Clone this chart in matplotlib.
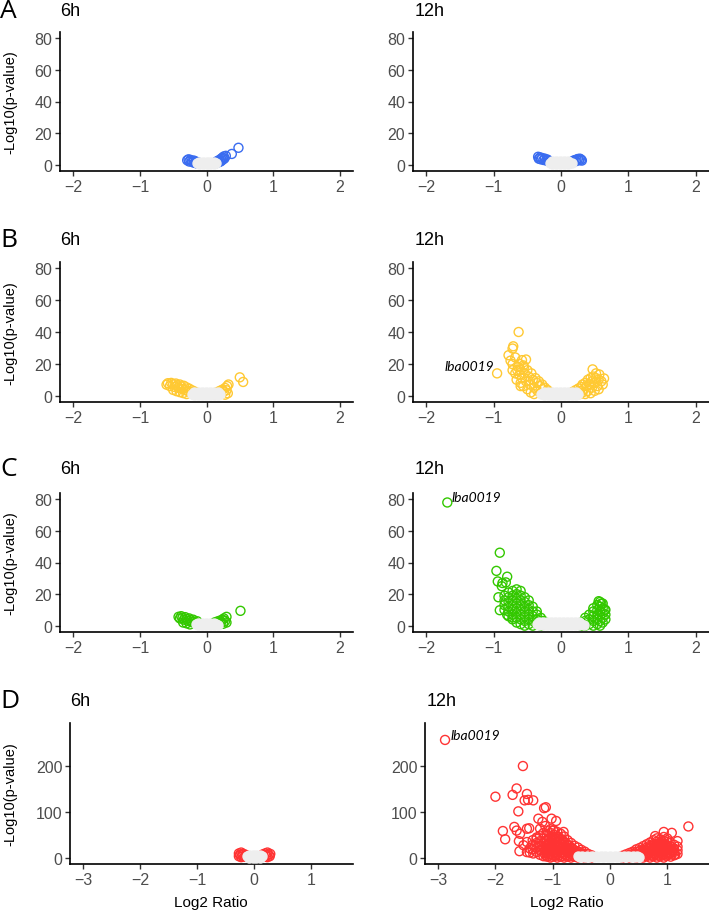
import matplotlib
matplotlib.use("Agg")
import matplotlib.pyplot as plt

# --- data: (Log2 ratio, -log10 p) ---
# A: blue
a6_sig = [(-0.29, 2.8), (-0.27, 3.4), (-0.26, 2.0), (-0.24, 3.0), (-0.22, 2.4), (-0.21, 1.6),
          (-0.19, 2.6), (-0.18, 1.2), (-0.16, 2.0), (-0.15, 0.8), (-0.13, 1.5), (-0.11, 0.6),
          (0.10, 0.6), (0.12, 1.2), (0.14, 0.8), (0.15, 1.8), (0.17, 2.5), (0.18, 1.5),
          (0.20, 3.0), (0.21, 2.0), (0.22, 3.8), (0.23, 2.7), (0.24, 4.4), (0.25, 3.4),
          (0.26, 5.2), (0.27, 4.0), (0.29, 5.6), (0.38, 6.8), (0.48, 10.7)]
a6_ns = [(-0.15, 1.0), (-0.12, 0.4), (-0.12, 1.8), (-0.09, 1.0), (-0.06, 0.3), (-0.06, 2.0),
         (-0.03, 1.1), (0.00, 0.2), (0.00, 1.8), (0.03, 1.0), (0.06, 0.3), (0.06, 2.0),
         (0.09, 1.0), (0.12, 0.4), (0.12, 1.8), (0.15, 1.0)]
a12_sig = [(-0.34, 5.0), (-0.33, 3.8), (-0.31, 4.6), (-0.30, 3.4), (-0.28, 4.2), (-0.26, 3.0),
           (-0.24, 3.8), (-0.22, 2.6), (-0.20, 3.2), (-0.18, 2.2), (-0.16, 1.6), (-0.14, 1.0),
           (0.12, 0.8), (0.14, 1.4), (0.16, 1.8), (0.18, 2.4), (0.20, 2.8), (0.22, 2.2),
           (0.23, 3.2), (0.25, 3.6), (0.27, 2.8), (0.28, 3.8), (0.30, 3.2), (0.31, 2.6)]
a12_ns = [(-0.17, 1.2), (-0.14, 0.4), (-0.14, 2.2), (-0.11, 1.2), (-0.08, 0.3), (-0.08, 2.4),
          (-0.05, 1.2), (-0.02, 0.2), (-0.02, 2.2), (0.01, 1.2), (0.04, 0.3), (0.04, 2.4),
          (0.07, 1.2), (0.10, 0.3), (0.10, 2.2), (0.13, 1.2), (0.16, 1.0)]

# B: yellow
b6_sig = [(-0.60, 6.9), (-0.58, 7.8), (-0.55, 6.0), (-0.53, 8.0), (-0.50, 7.2), (-0.48, 5.5),
          (-0.46, 7.6), (-0.44, 6.4), (-0.42, 4.8), (-0.40, 7.0), (-0.38, 5.8), (-0.36, 4.2),
          (-0.34, 6.2), (-0.32, 3.6), (-0.30, 5.2), (-0.28, 2.8), (-0.26, 4.4), (-0.24, 2.0),
          (-0.22, 3.4), (-0.20, 1.4), (-0.18, 2.6), (-0.16, 0.9), (-0.14, 1.8), (-0.50, 3.6),
          (-0.45, 2.8), (-0.40, 2.2), (-0.35, 1.6), (-0.30, 1.0),
          (0.12, 0.8), (0.14, 1.6), (0.16, 2.2), (0.18, 1.2), (0.20, 3.0), (0.22, 2.0),
          (0.24, 3.8), (0.26, 2.6), (0.28, 4.8), (0.30, 3.4), (0.31, 6.0), (0.33, 7.0),
          (0.32, 1.5), (0.28, 0.6), (0.50, 11.5), (0.55, 8.6)]
b6_ns = [(-0.22, 1.0), (-0.19, 0.3), (-0.19, 2.0), (-0.16, 1.0), (-0.13, 0.3), (-0.13, 2.2),
         (-0.10, 1.0), (-0.07, 0.3), (-0.07, 2.2), (-0.04, 1.0), (-0.01, 0.3), (-0.01, 2.2),
         (0.02, 1.0), (0.05, 0.3), (0.05, 2.2), (0.08, 1.0), (0.11, 0.3), (0.11, 2.2),
         (0.14, 1.0), (0.17, 0.3), (0.17, 2.0), (0.20, 1.0)]
b12_sig = [(-0.72, 16), (-0.68, 14), (-0.66, 10), (-0.64, 18), (-0.62, 13), (-0.60, 8),
           (-0.60, 16), (-0.58, 11), (-0.56, 6), (-0.56, 19), (-0.54, 14), (-0.52, 9),
           (-0.50, 4), (-0.50, 16), (-0.48, 12), (-0.46, 7), (-0.45, 2), (-0.44, 14),
           (-0.42, 10), (-0.40, 5), (-0.40, 1), (-0.38, 11), (-0.36, 8), (-0.35, 3),
           (-0.33, 9), (-0.31, 6), (-0.30, 1.5), (-0.28, 7), (-0.26, 4), (-0.24, 5),
           (-0.22, 2.5), (-0.20, 3.5), (-0.18, 1.5), (-0.16, 2),
           (-0.63, 40), (-0.71, 31), (-0.72, 29.6), (-0.78, 25.4), (-0.95, 14), (-0.72, 19.8),
           (-0.52, 22.7), (-0.58, 22.3), (-0.65, 16), (-0.60, 6), (-0.75, 22), (-0.68, 24),
           (-0.62, 20), (-0.55, 18),
           (0.16, 1.5), (0.18, 2.5), (0.20, 1), (0.22, 3.5), (0.24, 2), (0.26, 4.5),
           (0.28, 1), (0.28, 3), (0.30, 5.5), (0.32, 2), (0.32, 7), (0.34, 4), (0.36, 8),
           (0.36, 1), (0.38, 6), (0.40, 3), (0.40, 10), (0.42, 7), (0.44, 1.5), (0.44, 11),
           (0.46, 5), (0.46, 9), (0.48, 12), (0.50, 3), (0.50, 8), (0.52, 11), (0.54, 6),
           (0.56, 10), (0.47, 16.5), (0.57, 13.3), (0.64, 10.8), (0.62, 7), (0.60, 9),
           (0.52, 14), (0.56, 4)]
b12_ns = [(-0.29, 1.0), (-0.26, 0.3), (-0.26, 2.2), (-0.23, 1.0), (-0.20, 0.3), (-0.20, 2.2),
          (-0.17, 1.0), (-0.14, 0.3), (-0.14, 2.2), (-0.11, 1.0), (-0.08, 0.3), (-0.08, 2.2),
          (-0.05, 1.0), (-0.02, 0.3), (-0.02, 2.2), (0.01, 1.0), (0.04, 0.3), (0.04, 2.2),
          (0.07, 1.0), (0.10, 0.3), (0.10, 2.2), (0.13, 1.0), (0.16, 0.3), (0.16, 2.2),
          (0.19, 1.0), (0.22, 0.3), (0.22, 2.2), (0.25, 1.0)]

# C: green
c6_sig = [(-0.42, 5.6), (-0.40, 4.6), (-0.38, 6.0), (-0.36, 5.0), (-0.34, 3.8), (-0.32, 5.4),
          (-0.30, 4.2), (-0.28, 3.0), (-0.26, 4.6), (-0.24, 3.4), (-0.22, 2.2), (-0.20, 3.8),
          (-0.18, 2.6), (-0.16, 1.6), (-0.14, 2.8), (-0.12, 1.2), (-0.35, 2.0), (-0.30, 1.5),
          (-0.25, 0.8),
          (0.10, 1.0), (0.12, 2.0), (0.14, 1.4), (0.16, 2.6), (0.18, 1.8), (0.20, 3.2),
          (0.22, 2.2), (0.24, 3.8), (0.25, 1.2), (0.26, 4.6), (0.28, 3.0), (0.30, 5.6),
          (0.30, 2.0), (0.51, 9.4)]
c6_ns = [(-0.16, 1.0), (-0.13, 0.3), (-0.13, 2.0), (-0.10, 1.0), (-0.07, 0.3), (-0.07, 2.0),
         (-0.04, 1.0), (-0.01, 0.3), (-0.01, 2.0), (0.02, 1.0), (0.05, 0.3), (0.05, 2.0),
         (0.08, 1.0), (0.11, 0.3), (0.11, 2.0), (0.14, 1.0), (0.17, 0.6)]
c12_sig = [(-0.84, 10), (-0.84, 13), (-0.84, 16), (-0.84, 19),
           (-0.78, 6), (-0.78, 9), (-0.78, 12), (-0.78, 15), (-0.78, 18), (-0.78, 21),
           (-0.72, 4), (-0.72, 7), (-0.72, 10), (-0.72, 13), (-0.72, 16), (-0.72, 19), (-0.72, 22),
           (-0.66, 2), (-0.66, 5), (-0.66, 8), (-0.66, 11), (-0.66, 14), (-0.66, 17), (-0.66, 20),
           (-0.66, 23),
           (-0.60, 1), (-0.60, 4), (-0.60, 7), (-0.60, 10), (-0.60, 13), (-0.60, 16), (-0.60, 19),
           (-0.60, 22),
           (-0.54, 0), (-0.54, 3), (-0.54, 6), (-0.54, 9), (-0.54, 12), (-0.54, 15), (-0.54, 18),
           (-0.48, 1), (-0.48, 4), (-0.48, 7), (-0.48, 10), (-0.48, 13), (-0.48, 16),
           (-0.42, 0), (-0.42, 3), (-0.42, 6), (-0.42, 9), (-0.42, 12),
           (-0.36, 1), (-0.36, 4), (-0.36, 7), (-0.36, 9),
           (-0.30, 0), (-0.30, 3), (-0.30, 5), (-0.26, 1), (-0.26, 3),
           (-0.80, 6.9), (-0.72, 5.2), (-0.91, 9.8), (-0.93, 18), (-0.88, 25), (-0.87, 27),
           (-0.82, 27.4), (-0.94, 28), (-0.80, 31), (-0.96, 34.7), (-0.91, 46.2), (-1.69, 78),
           (0.30, 0), (0.30, 2), (0.36, 0), (0.36, 3), (0.36, 5), (0.42, 1), (0.42, 4), (0.42, 7),
           (0.48, 0), (0.48, 3), (0.48, 6), (0.48, 9), (0.48, 11),
           (0.54, 1), (0.54, 4), (0.54, 7), (0.54, 10), (0.54, 13),
           (0.58, 0), (0.58, 3), (0.58, 6), (0.58, 9), (0.58, 12), (0.58, 15),
           (0.62, 2), (0.62, 5), (0.62, 8), (0.62, 11), (0.62, 14),
           (0.66, 4), (0.66, 7), (0.66, 10), (0.65, 10), (0.56, 15.5), (0.60, 14)]
c12_ns = [(-0.36, 1.0), (-0.33, 0.3), (-0.33, 2.2), (-0.30, 1.0), (-0.27, 0.3), (-0.27, 2.2),
          (-0.24, 1.0), (-0.21, 0.3), (-0.21, 2.2), (-0.18, 1.0), (-0.15, 0.3), (-0.15, 2.2),
          (-0.12, 1.0), (-0.09, 0.3), (-0.09, 2.2), (-0.06, 1.0), (-0.03, 0.3), (-0.03, 2.2),
          (0.00, 1.0), (0.03, 0.3), (0.03, 2.2), (0.06, 1.0), (0.09, 0.3), (0.09, 2.2),
          (0.12, 1.0), (0.15, 0.3), (0.15, 2.2), (0.18, 1.0), (0.21, 0.3), (0.21, 2.2),
          (0.24, 1.0), (0.27, 0.3), (0.27, 2.2), (0.30, 1.0), (0.34, 0.6)]

# D: red
d6_sig = [(-0.27, 3), (-0.27, 9), (-0.25, 6), (-0.23, 1), (-0.23, 11), (-0.21, 5), (-0.19, 8),
          (-0.17, 2), (-0.15, 6), (-0.13, 4), (0.13, 4), (0.15, 7), (0.17, 2), (0.19, 9),
          (0.21, 5), (0.23, 1), (0.23, 11), (0.25, 6), (0.27, 3), (0.28, 8)]
d6_ns = [(-0.13, 3), (-0.10, 0), (-0.10, 6), (-0.06, 3), (-0.03, 0), (-0.03, 6), (0.00, 3),
         (0.03, 0), (0.03, 6), (0.06, 3), (0.10, 0), (0.10, 6), (0.13, 3)]
d12_sig = [(-2.88, 257), (-1.52, 200), (-2.00, 133), (-1.70, 137), (-1.63, 151), (-1.45, 139),
           (-1.49, 125), (-1.43, 126), (-1.34, 125), (-1.60, 101), (-1.15, 108), (-1.12, 110),
           (-1.87, 58), (-1.83, 40), (-1.67, 67), (-1.63, 59), (-1.45, 63), (-1.41, 64),
           (-1.57, 52), (-1.59, 36), (-1.58, 14), (-1.45, 12), (-1.40, 11), (-1.34, 9),
           (-1.25, 85), (-1.18, 78), (-1.02, 85), (-0.94, 80), (-1.22, 63), (-1.13, 69),
           (-0.99, 59), (-0.81, 56), (-1.28, 41), (-1.31, 27), (-1.51, 27), (-1.45, 34),
           (-1.40, 20),
           (-1.35, 18), (-1.35, 28), (-1.35, 38),
           (-1.28, 12), (-1.28, 22), (-1.28, 32), (-1.28, 44),
           (-1.22, 6), (-1.22, 16), (-1.22, 26), (-1.22, 36), (-1.22, 48),
           (-1.16, 3), (-1.16, 12), (-1.16, 22), (-1.16, 32), (-1.16, 42), (-1.16, 54),
           (-1.10, 2), (-1.10, 10), (-1.10, 18), (-1.10, 28), (-1.10, 38), (-1.10, 48), (-1.10, 58),
           (-1.04, 0), (-1.04, 8), (-1.04, 16), (-1.04, 24), (-1.04, 34), (-1.04, 44), (-1.04, 54),
           (-1.04, 62),
           (-0.98, 4), (-0.98, 12), (-0.98, 20), (-0.98, 30), (-0.98, 40), (-0.98, 50), (-0.98, 60),
           (-0.92, 0), (-0.92, 8), (-0.92, 16), (-0.92, 26), (-0.92, 36), (-0.92, 46), (-0.92, 56),
           (-0.86, 2), (-0.86, 10), (-0.86, 20), (-0.86, 30), (-0.86, 40), (-0.86, 52),
           (-0.80, 0), (-0.80, 8), (-0.80, 16), (-0.80, 24), (-0.80, 34), (-0.80, 46),
           (-0.74, 2), (-0.74, 10), (-0.74, 18), (-0.74, 28), (-0.74, 38),
           (-0.68, 0), (-0.68, 7), (-0.68, 14), (-0.68, 22), (-0.68, 32),
           (-0.62, 2), (-0.62, 9), (-0.62, 16), (-0.62, 26),
           (-0.56, 0), (-0.56, 6), (-0.56, 13), (-0.56, 22),
           (-0.50, 2), (-0.50, 9), (-0.50, 17),
           (-0.44, 0), (-0.44, 6), (-0.44, 13),
           (-0.38, 2), (-0.38, 8), (-0.32, 0), (-0.32, 5),
           (-1.13, 6), (-1.13, 16), (-1.13, 26), (-1.13, 36), (-1.07, 4), (-1.07, 13),
           (-1.07, 21), (-1.07, 30), (-1.07, 40), (-1.01, 2), (-1.01, 8), (-1.01, 18),
           (-1.01, 27), (-1.01, 36), (-1.01, 46), (-0.95, 4), (-0.95, 12), (-0.95, 22),
           (-0.95, 32), (-0.95, 42), (-0.89, 5), (-0.89, 14), (-0.89, 24), (-0.89, 34),
           (-0.89, 45), (-0.83, 4), (-0.83, 12), (-0.83, 20), (-0.83, 30), (-0.83, 38),
           (-0.77, 5), (-0.77, 14), (-0.77, 23), (-0.77, 32), (-0.71, 4), (-0.71, 11),
           (-0.71, 18), (-0.71, 26), (-0.65, 4), (-0.65, 11), (-0.65, 19), (-0.59, 4),
           (-0.59, 12), (-0.53, 4), (-0.53, 12), (-0.47, 3), (-0.47, 9), (-0.41, 3),
           (0.22, 0), (0.22, 4), (0.28, 2), (0.28, 7), (0.34, 0), (0.34, 5), (0.34, 10),
           (0.40, 2), (0.40, 8), (0.40, 13),
           (0.46, 0), (0.46, 6), (0.46, 12), (0.46, 18),
           (0.52, 3), (0.52, 9), (0.52, 15), (0.52, 21),
           (0.58, 0), (0.58, 6), (0.58, 12), (0.58, 18), (0.58, 25),
           (0.64, 3), (0.64, 9), (0.64, 15), (0.64, 22), (0.64, 29),
           (0.70, 0), (0.70, 6), (0.70, 12), (0.70, 19), (0.70, 26), (0.70, 33),
           (0.76, 3), (0.76, 9), (0.76, 16), (0.76, 23), (0.76, 30), (0.76, 38),
           (0.82, 0), (0.82, 6), (0.82, 13), (0.82, 20), (0.82, 27), (0.82, 35), (0.82, 42),
           (0.88, 3), (0.88, 10), (0.88, 17), (0.88, 24), (0.88, 32), (0.88, 40),
           (0.94, 0), (0.94, 7), (0.94, 14), (0.94, 21), (0.94, 29), (0.94, 37), (0.94, 45),
           (1.00, 4), (1.00, 11), (1.00, 18), (1.00, 26), (1.00, 34), (1.00, 42),
           (1.06, 2), (1.06, 9), (1.06, 16), (1.06, 24), (1.06, 32),
           (1.12, 5), (1.12, 12), (1.12, 20), (1.12, 28),
           (1.18, 8), (1.18, 16), (1.18, 24),
           (0.55, 8), (0.61, 4), (0.61, 15), (0.67, 9), (0.67, 20), (0.73, 4), (0.73, 15),
           (0.73, 25), (0.79, 7), (0.79, 19), (0.79, 30), (0.85, 4), (0.85, 16), (0.85, 28),
           (0.91, 8), (0.91, 20), (0.91, 34), (0.97, 4), (0.97, 16), (0.97, 30), (1.03, 8),
           (1.03, 22), (1.09, 13),
           (1.37, 68), (1.18, 36), (1.08, 54), (0.94, 56), (0.79, 47), (1.14, 6.5), (1.11, 16)]
d12_ns = [(-0.56, 3), (-0.52, 1), (-0.48, 4), (-0.44, 1), (-0.40, 4), (-0.36, 1), (-0.32, 4),
          (-0.28, 1), (-0.24, 4), (-0.20, 1), (-0.16, 4), (-0.12, 1), (-0.08, 4), (-0.04, 1),
          (0.00, 4), (0.04, 1), (0.08, 4), (0.12, 1), (0.16, 4), (0.20, 1), (0.24, 4),
          (0.28, 1), (0.32, 4), (0.36, 1), (0.40, 4), (0.44, 1), (0.48, 4), (0.50, 2)]

BLUE, YELLOW, GREEN, RED, GREY = '#3A6CF0', '#FFC933', '#33C800', '#FF3333', '#EEEEEE'

W, H = 709, 912
fig = plt.figure(figsize=(W / 100, H / 100), dpi=100)
plt.rcParams['font.family'] = ['Liberation Sans', 'DejaVu Sans']


def fig_text(x, y, s, **kw):
    fig.text(x / W, 1 - y / H, s, **kw)


def panel(box, sig, ns, color, xlim, ylim, xticks, yticks):
    l, t, r, b = box
    ax = fig.add_axes([l / W, 1 - b / H, (r - l) / W, (b - t) / H])
    ax.scatter([p[0] for p in sig], [p[1] for p in sig], s=42, facecolors='none',
               edgecolors=color, linewidths=1.0, zorder=2, clip_on=False)
    ax.scatter([p[0] for p in ns], [p[1] for p in ns], s=42, facecolors=GREY,
               edgecolors=GREY, linewidths=1.0, zorder=3, clip_on=False)
    ax.set_xlim(*xlim)
    ax.set_ylim(*ylim)
    ax.set_xticks(xticks)
    ax.set_xticklabels([str(v).replace('-', '\u2212') for v in xticks])
    ax.set_yticks(yticks)
    for side in ['top', 'right']:
        ax.spines[side].set_visible(False)
    for side in ['left', 'bottom']:
        ax.spines[side].set_linewidth(1.2)
    ax.tick_params(direction='out', length=3.5, width=1, color='#333333',
                   labelcolor='#4D4D4D', labelsize=11.5, pad=2)
    return ax


xt = [-2, -1, 0, 1, 2]
yt = [0, 20, 40, 60, 80]
xt_d = [-3, -2, -1, 0, 1]
yt_d = [0, 100, 200]
lab_font = ['Lato', 'DejaVu Sans']

panel((60, 33, 353, 172), a6_sig, a6_ns, BLUE, (-2.2, 2.2), (-4, 84), xt, yt)
panel((413, 33, 709, 172), a12_sig, a12_ns, BLUE, (-2.2, 2.2), (-4, 84), xt, yt)
panel((60, 263, 353, 403), b6_sig, b6_ns, YELLOW, (-2.2, 2.2), (-4, 84), xt, yt)
ax = panel((413, 263, 709, 403), b12_sig, b12_ns, YELLOW, (-2.2, 2.2), (-4, 84), xt, yt)
ax.text(-0.99, 18.5, 'lba0019', ha='right', va='center', fontsize=10,
        style='italic', family=lab_font)
panel((60, 494, 353, 633), c6_sig, c6_ns, GREEN, (-2.2, 2.2), (-4, 84), xt, yt)
ax = panel((413, 494, 709, 633), c12_sig, c12_ns, GREEN, (-2.2, 2.2), (-4, 84), xt, yt)
ax.text(-1.62, 81.5, 'lba0019', ha='left', va='center', fontsize=10,
        style='italic', family=lab_font)
panel((70, 724, 353, 865), d6_sig, d6_ns, RED, (-3.23, 1.73), (-14, 294), xt_d, yt_d)
ax = panel((425, 724, 709, 865), d12_sig, d12_ns, RED, (-3.23, 1.73), (-14, 294), xt_d, yt_d)
ax.text(-2.79, 267, 'lba0019', ha='left', va='center', fontsize=10,
        style='italic', family=lab_font)

# row letters, panel titles, axis labels
rows = [('A', 12, 60, 415, 102), ('B', 241, 60, 415, 333), ('C', 470, 60, 415, 563),
        ('D', 702, 70, 427, 794)]
for letter, yc, x6, x12, ymid in rows:
    fig_text(0, yc, letter, fontsize=19, va='center', ha='left', family=['Open Sans', 'DejaVu Sans'])
    fig_text(x6, yc, '6h', fontsize=13, va='center', ha='left')
    fig_text(x12, yc, '12h', fontsize=13, va='center', ha='left')
    fig_text(10, ymid, '-Log10(p-value)', fontsize=10.5, rotation=90, va='center', ha='center')

fig_text(211, 903, 'Log2 Ratio', fontsize=11, ha='center', va='center')
fig_text(567, 903, 'Log2 Ratio', fontsize=11, ha='center', va='center')

fig.savefig('out.png', dpi=100)
